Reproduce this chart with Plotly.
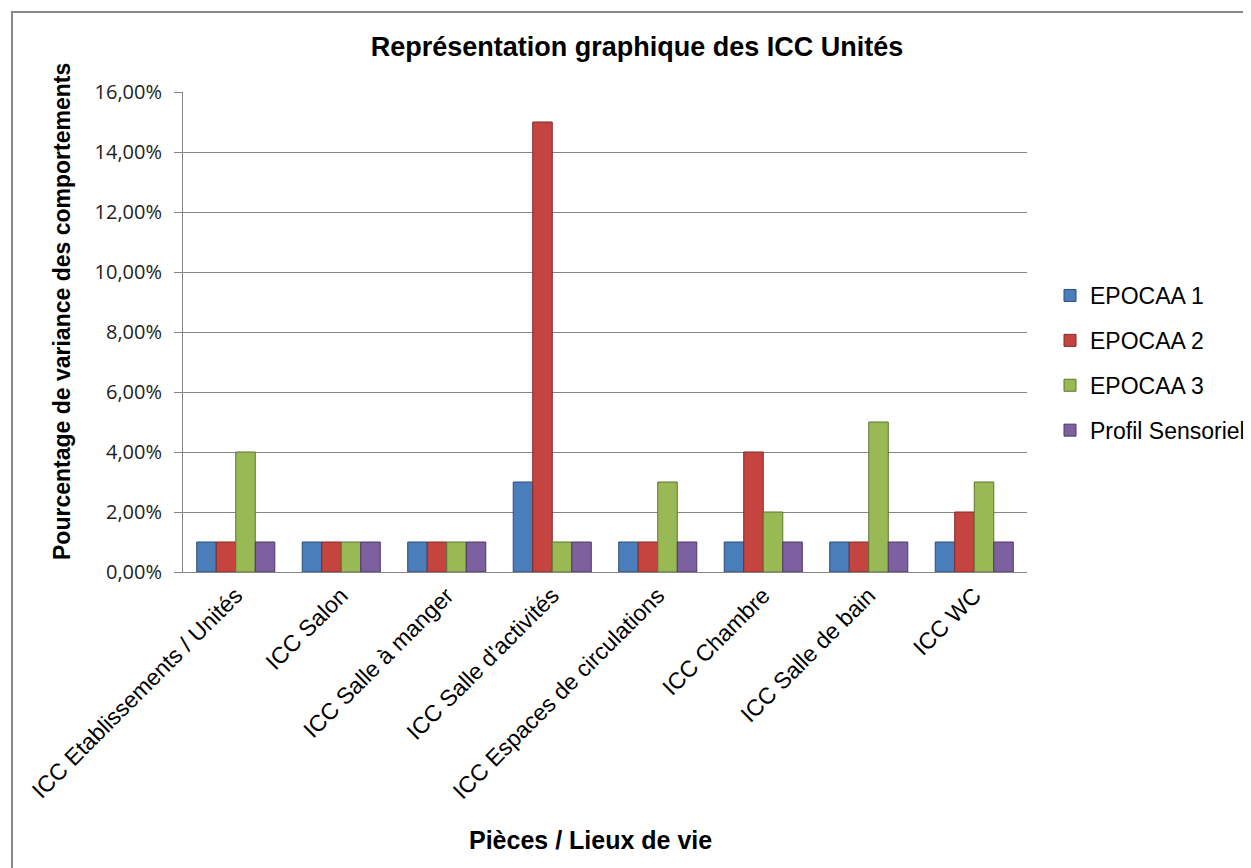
import plotly.graph_objects as go

categories = [
    "ICC Etablissements / Unités",
    "ICC Salon",
    "ICC Salle à manger",
    "ICC Salle d'activités",
    "ICC Espaces de circulations",
    "ICC Chambre",
    "ICC Salle de bain",
    "ICC WC",
]
epocaa1 = [0.01, 0.01, 0.01, 0.03, 0.01, 0.01, 0.01, 0.01]
epocaa2 = [0.01, 0.01, 0.01, 0.15, 0.01, 0.04, 0.01, 0.02]
epocaa3 = [0.04, 0.01, 0.01, 0.01, 0.03, 0.02, 0.05, 0.03]
profil = [0.01, 0.01, 0.01, 0.01, 0.01, 0.01, 0.01, 0.01]

series = [
    ("EPOCAA 1", epocaa1, "#4A7EBB", "#2C4D75"),
    ("EPOCAA 2", epocaa2, "#C64440", "#7F2A28"),
    ("EPOCAA 3", epocaa3, "#98B954", "#5E7530"),
    ("Profil Sensoriel", profil, "#7D60A0", "#4D3A63"),
]

fig = go.Figure()
for name, vals, col, edge in series:
    fig.add_trace(go.Bar(
        x=categories, y=vals, name=name, legendgroup=name,
        marker=dict(color=col, line=dict(color=edge, width=1)),
    ))

# page body adds an 8px offset, so work in reference pixels minus 8
OFF = 8
W, H = 1251 - OFF, 868 - OFF
L, T = 183 - OFF, 92 - OFF
R, B = W - (1027 - OFF), H - (572 - OFF)
pw, ph = W - L - R, H - T - B


def px_x(p):
    return (p - OFF - L) / pw


def px_y(p):
    return (H - B - (p - OFF)) / ph


fig.update_layout(
    width=W, height=H,
    margin=dict(l=L, r=R, t=T, b=B, autoexpand=False),
    paper_bgcolor="white", plot_bgcolor="white",
    separators=", ",
    barmode="group", bargap=0.26, bargroupgap=0,
    font=dict(family="Liberation Sans, Arial", color="black"),
    title=dict(
        text="<b>Représentation graphique des ICC Unités</b>",
        x=(637 - OFF) / W, xref="container", xanchor="center",
        y=1 - (47 - OFF) / H, yanchor="middle",
        font=dict(size=27),
    ),
    legend=dict(
        x=px_x(1050), y=px_y(274), xanchor="left", yanchor="top",
        font=dict(size=23), traceorder="grouped", tracegroupgap=12,
        bgcolor="rgba(0,0,0,0)",
    ),
    showlegend=True,
    shapes=[dict(
        type="rect", xref="paper", yref="paper",
        x0=px_x(12), x1=px_x(1262), y0=px_y(12), y1=px_y(880),
        line=dict(color="#878787", width=2), fillcolor="rgba(0,0,0,0)",
        layer="below",
    )],
    annotations=[
        dict(text="<b>Pourcentage de variance des comportements</b>",
             xref="paper", yref="paper", x=px_x(62), y=px_y(312),
             xanchor="center", yanchor="middle", textangle=-90,
             showarrow=False, font=dict(size=23)),
        dict(text="<b>Pièces / Lieux de vie</b>",
             xref="paper", yref="paper", x=px_x(590), y=px_y(840),
             xanchor="center", yanchor="middle",
             showarrow=False, font=dict(size=25)),
    ],
)
fig.update_yaxes(
    range=[0, 0.16], dtick=0.02, tickformat=".2%",
    showgrid=True, gridcolor="#868686", gridwidth=1,
    showline=True, linecolor="#868686", linewidth=1,
    ticks="outside", ticklen=8, tickcolor="#868686",
    ticklabelstandoff=8,
    tickfont=dict(family="Open Sans, Noto Sans", size=20, color="#222"),
)
fig.update_xaxes(
    tickangle=-45, tickfont=dict(size=23),
    showline=True, linecolor="#868686", linewidth=1, ticks="",
)
fig.write_html("out.html")
